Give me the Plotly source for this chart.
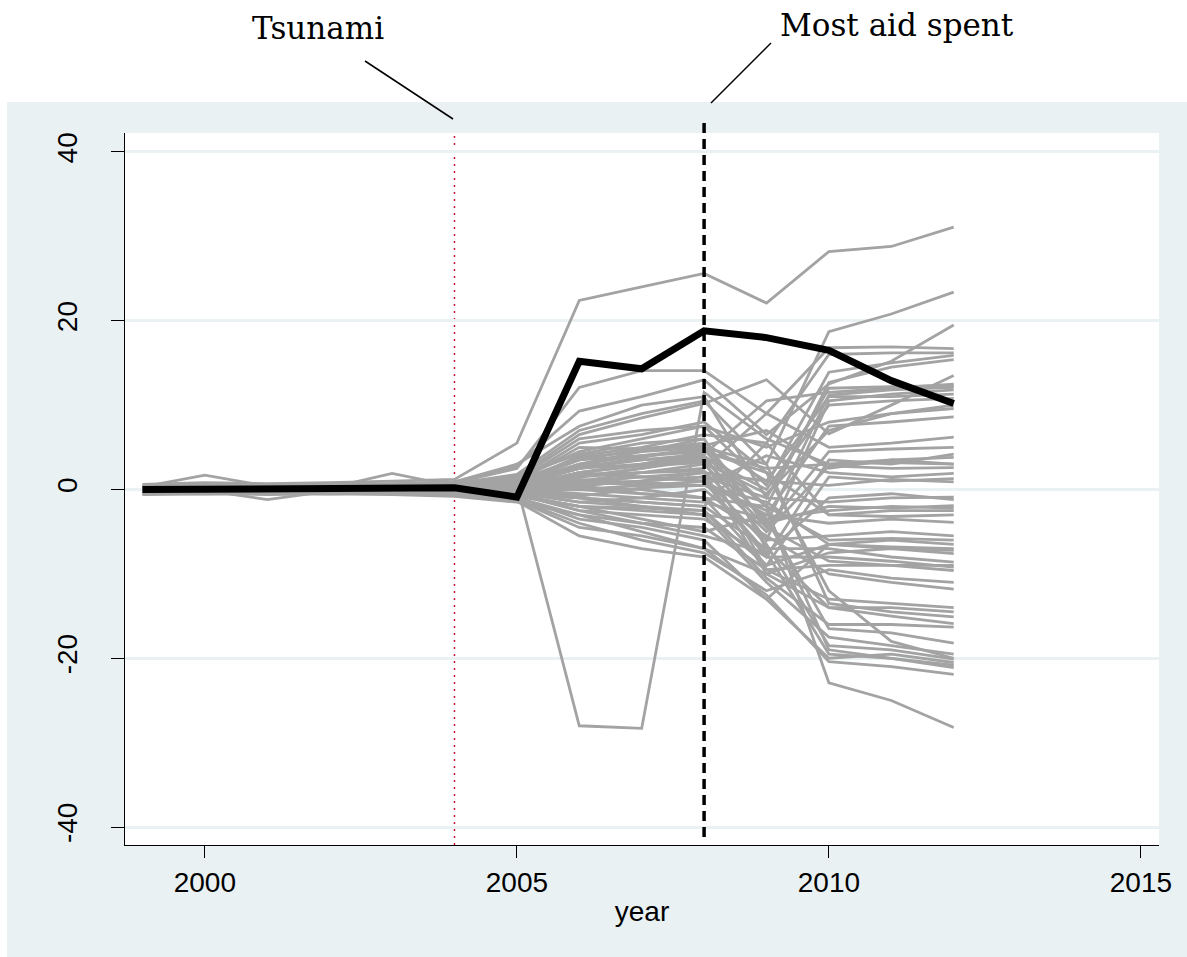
import plotly.graph_objects as go

# Gap between each region and its synthetic control, 1999-2012
years = [1999, 2000, 2001, 2002, 2003, 2004, 2005, 2006, 2007, 2008, 2009, 2010, 2011, 2012]

treated = [0.0, 0.0, 0.0, 0.0, 0.0, 0.2, -0.9, 15.2, 14.3, 18.8, 18.0, 16.5, 12.9, 10.2]

# Placebo runs (one per donor region)
gap_01 = [0.6, 0.8, 0.7, 0.8, 1.0, 1.2, 5.5, 22.4, 24.0, 25.6, 22.1, 28.2, 28.8, 31.1]
gap_02 = [0.2, 0.3, 0.2, 0.4, 0.3, 0.7, 1.8, 7.0, 9.0, 10.5, 3.0, 18.7, 20.8, 23.4]
gap_03 = [0.4, 0.5, 0.3, 0.5, 0.6, 0.9, 2.8, 9.3, 11.0, 13.0, 6.5, 12.5, 15.2, 19.5]
gap_04 = [0.3, 0.4, 0.3, 0.4, 0.5, 0.8, 2.5, 12.1, 14.1, 14.1, 9.0, 16.8, 16.9, 16.7]
gap_05 = [0.1, 0.2, 0.1, 0.2, 0.3, 0.4, 1.2, 4.5, 6.0, 7.5, 0.5, 13.9, 15.0, 15.9]
gap_06 = [-0.1, 0.1, 0.0, 0.2, 0.1, 0.3, 1.0, 3.8, 4.5, 5.0, -2.0, 12.7, 14.5, 15.4]
gap_07 = [0.2, 0.1, 0.3, 0.2, 0.4, 0.6, 1.5, 6.5, 8.5, 10.2, 13.0, 6.6, 10.0, 13.5]
gap_08 = [0.0, 0.1, 0.2, 0.1, 0.2, 0.3, 0.8, 3.0, 4.0, 4.8, -4.0, 11.2, 11.8, 12.1]
gap_09 = [0.1, 0.0, 0.1, 0.0, 0.2, 0.2, 0.6, 2.5, 3.5, 4.0, -6.0, 10.5, 11.3, 11.8]
gap_10 = [-0.2, 0.0, -0.1, 0.1, 0.0, 0.2, 0.9, 5.0, 4.8, 5.5, 1.0, 11.0, 11.0, 11.3]
gap_11 = [0.3, 1.7, 0.4, 0.3, 0.5, 0.5, 1.3, 6.0, 7.0, 7.5, 5.0, 8.0, 9.0, 9.6]
gap_12 = [0.1, 0.2, 0.0, 0.2, 0.1, 0.3, 0.4, 2.0, 1.5, 1.0, -3.0, 7.5, 8.0, 8.6]
gap_13 = [0.0, -0.1, 0.1, 0.0, 0.1, 0.1, 0.3, 1.5, 2.0, 2.5, 9.0, 5.0, 5.5, 6.2]
gap_14 = [-0.3, -0.2, -0.3, -0.2, -0.1, 0.0, 0.2, 1.0, 1.5, 1.0, -8.0, 3.5, 3.0, 4.2]
gap_15 = [0.2, 0.3, 0.1, 0.2, 1.9, 0.4, 1.0, 3.5, 4.8, 5.2, 7.0, 2.5, 3.5, 3.8]
gap_16 = [0.0, 0.0, 0.1, 0.1, 0.0, 0.2, 0.5, 1.8, 2.0, 2.2, -5.0, 2.8, 2.5, 2.6]
gap_17 = [-0.1, 0.0, -0.1, 0.0, 0.1, 0.1, 0.2, 1.2, 0.8, 0.5, 4.0, 2.0, 1.5, 1.9]
gap_18 = [0.1, 0.0, 0.0, -0.1, 0.0, 0.0, -0.2, 0.5, -0.5, -1.0, -9.0, 1.5, 1.0, 1.3]
gap_19 = [0.0, 0.1, 0.0, 0.1, 0.0, 0.1, 0.1, 0.8, 1.5, 2.0, 1.0, 0.5, 1.2, 0.9]
gap_20 = [0.2, 0.1, 0.3, 0.2, 0.1, 0.4, 0.5, -28.0, -28.3, 11.5, 6.0, 3.0, 3.5, 3.0]
gap_21 = [0.0, 0.0, -0.1, 0.0, -0.1, 0.0, -0.3, 0.5, 1.0, 1.5, -1.0, -1.5, -1.0, -0.9]
gap_22 = [-0.2, -0.1, -1.2, -0.2, -0.3, -0.2, -0.5, -1.0, -2.0, -3.0, -4.0, -2.0, -2.2, -1.9]
gap_23 = [0.1, 0.0, 0.1, 0.0, 0.1, 0.0, 0.0, 2.0, 3.0, 4.5, 2.0, -3.0, -2.5, -2.5]
gap_24 = [-0.3, -0.2, -0.4, -0.3, -0.2, -0.4, -0.8, -2.0, -3.5, -5.0, -3.0, -4.0, -3.5, -3.9]
gap_25 = [0.0, 0.1, 0.0, 0.0, -0.1, -0.1, -0.4, -1.5, -1.0, 0.0, -6.0, -5.5, -5.0, -5.5]
gap_26 = [-0.1, -0.1, 0.0, -0.1, -0.1, -0.2, -0.2, 0.0, -0.5, -1.0, -2.0, -6.0, -5.8, -6.0]
gap_27 = [-0.5, -0.4, -0.5, -0.4, -0.3, -0.5, -1.0, -3.0, -5.0, -7.0, -10.0, -7.5, -7.0, -7.6]
gap_28 = [0.2, 0.2, 0.1, 0.2, 0.3, 0.2, 0.4, 3.0, 4.5, 6.0, -7.0, -7.0, -8.0, -8.6]
gap_29 = [-0.2, -0.3, -0.2, -0.1, -0.2, -0.3, -0.6, -2.5, -3.0, -3.5, -8.0, -8.0, -8.5, -9.2]
gap_30 = [0.1, 0.0, 0.1, 0.0, 0.0, 0.0, 0.1, 1.0, 2.0, 3.0, -4.5, -8.5, -9.0, -9.6]
gap_31 = [-0.4, -0.3, -0.4, -0.3, -0.4, -0.6, -1.2, -4.0, -6.0, -7.5, -12.0, -9.5, -10.5, -11.0]
gap_32 = [0.0, 0.0, 0.0, 0.1, 0.0, 0.0, -0.1, 0.2, 0.0, -1.0, -5.5, -10.0, -11.0, -11.8]
gap_33 = [-0.6, -0.5, -0.6, -0.5, -0.6, -0.8, -1.5, -3.0, -4.0, -4.5, -9.5, -13.0, -13.5, -14.0]
gap_34 = [0.3, 0.2, 0.3, 0.2, 0.2, 0.3, 0.5, 2.5, 3.8, 5.0, 3.0, -13.5, -14.5, -15.1]
gap_35 = [-0.1, 0.0, -0.1, -0.2, -0.1, -0.1, -0.3, -1.0, -1.5, -2.0, -7.0, -14.0, -15.0, -15.9]
gap_36 = [0.2, 0.1, 0.2, 0.3, 0.2, 0.1, 0.3, 1.5, 2.5, 3.5, -3.5, -16.5, -17.0, -18.2]
gap_37 = [-0.2, -0.2, -0.1, -0.2, -0.2, -0.3, -0.7, -2.0, -2.5, -3.0, -11.0, -17.5, -18.5, -19.5]
gap_38 = [0.0, 0.1, 0.0, 0.0, 0.1, 0.0, 0.0, 0.5, 1.0, 1.5, -6.5, -18.5, -19.0, -20.1]
gap_39 = [-0.3, -0.4, -0.3, -0.2, -0.3, -0.4, -0.9, -3.5, -4.5, -6.0, -13.0, -20.0, -19.5, -20.5]
gap_40 = [0.1, 0.0, 0.1, 0.1, 0.0, 0.1, 0.2, 1.0, 0.5, 0.5, -2.5, -19.0, -20.0, -21.1]
gap_41 = [-0.5, -0.5, -0.4, -0.5, -0.4, -0.6, -1.3, -4.5, -5.5, -7.0, -12.5, -20.4, -21.0, -21.9]
gap_42 = [0.0, 0.0, 0.0, 0.0, 0.0, 0.1, 0.2, 2.0, 3.0, 4.0, -2.0, -22.9, -25.0, -28.2]
gap_43 = [0.1, 0.1, 0.2, 0.1, 0.1, 0.2, 0.6, 4.0, 5.0, 6.5, 5.5, 16.0, 16.2, 16.2]
gap_44 = [0.0, 0.1, 0.0, 0.1, 0.0, 0.1, 0.4, 2.8, 3.5, 4.2, 10.5, 11.5, 12.0, 12.5]
gap_45 = [-0.1, 0.0, -0.1, 0.0, -0.1, 0.0, 0.1, 1.5, 2.5, 3.8, 0.0, 10.0, 10.5, 10.8]
gap_46 = [0.0, 0.0, 0.0, 0.0, 0.0, 0.0, 0.0, -0.5, -1.0, -1.5, -3.5, -2.5, -2.0, -2.2]
gap_47 = [-0.2, -0.1, -0.2, -0.1, -0.2, -0.2, -0.4, -1.5, -2.0, -2.5, -9.0, -6.5, -6.0, -6.5]
gap_48 = [0.1, 0.0, 0.1, 0.0, 0.1, 0.0, 0.0, 0.5, 1.0, 2.0, -10.0, -14.0, -14.0, -14.5]
gap_49 = [-0.2, -0.2, -0.3, -0.2, -0.1, -0.2, -0.5, -2.5, -4.0, -5.5, -7.5, -19.5, -20.0, -20.8]
gap_50 = [0.2, 0.2, 0.3, 0.2, 0.2, 0.3, 0.7, 3.5, 4.0, 4.5, 2.5, 3.0, 3.2, 3.0]
gap_51 = [0.5, 0.6, 0.5, 0.6, 0.7, 0.9, 3.0, 7.5, 10.0, 11.0, -1.0, 12.0, 12.2, 12.3]
gap_52 = [-0.4, -0.3, -0.5, -0.4, -0.5, -0.6, -1.4, -5.5, -7.0, -8.0, -13.0, -6.5, -7.0, -7.2]
gap_53 = [0.3, 0.4, 0.3, 0.3, 0.4, 0.5, 1.6, 4.2, 5.5, 6.0, -4.5, 4.5, 4.8, 5.0]
gap_54 = [0.0, -0.1, 0.0, -0.1, 0.0, 0.1, 0.3, 0.0, 0.5, 1.0, -7.5, -1.0, -0.5, -1.2]
gap_55 = [-0.3, -0.2, -0.3, -0.3, -0.2, -0.3, -0.6, -1.0, -1.5, -2.0, 5.5, -3.0, -3.2, -3.0]
gap_56 = [0.1, 0.2, 0.1, 0.1, 0.2, 0.2, 0.5, 2.5, 3.0, 3.5, -9.5, -9.0, -9.0, -9.0]
gap_57 = [-0.1, -0.2, -0.1, -0.1, -0.2, -0.2, -0.6, -2.0, -2.2, -2.5, -10.5, -16.0, -16.0, -16.3]
gap_58 = [0.2, 0.3, 0.2, 0.3, 0.2, 0.4, 1.0, 5.5, 6.5, 8.0, 2.0, -12.0, -18.0, -20.0]
gap_59 = [0.0, 0.0, 0.0, 0.0, 0.0, 0.0, -0.2, -0.8, 0.2, 0.5, -1.5, -6.5, -6.8, -7.0]
gap_60 = [0.1, 0.0, 0.1, 0.0, 0.1, 0.1, 0.4, 2.0, 2.8, 3.2, -0.5, 7.0, 9.0, 10.0]

placebos = [
    gap_01, gap_02, gap_03, gap_04, gap_05, gap_06, gap_07, gap_08, gap_09, gap_10,
    gap_11, gap_12, gap_13, gap_14, gap_15, gap_16, gap_17, gap_18, gap_19, gap_20,
    gap_21, gap_22, gap_23, gap_24, gap_25, gap_26, gap_27, gap_28, gap_29, gap_30,
    gap_31, gap_32, gap_33, gap_34, gap_35, gap_36, gap_37, gap_38, gap_39, gap_40,
    gap_41, gap_42, gap_43, gap_44, gap_45, gap_46, gap_47, gap_48, gap_49, gap_50,
    gap_51, gap_52, gap_53, gap_54, gap_55, gap_56, gap_57, gap_58, gap_59, gap_60,
]

x_ticks = [2000, 2005, 2010, 2015]
y_ticks = [-40, -20, 0, 20, 40]
tsunami_year = 2004
aid_year = 2008

W, H = 1187, 957
ML, MR, MT, MB = 125, 28, 133, 112
PW, PH = W - ML - MR, H - MT - MB


def px(xp):
    return (xp - ML) / PW


def py(yp):
    return (H - MB - yp) / PH


BG = "#e9f1f3"
GREY = "#a3a3a3"
RED = "#c8143c"

fig = go.Figure()

for g in placebos:
    fig.add_trace(go.Scatter(x=years, y=g, mode="lines",
                             line=dict(color=GREY, width=2.8),
                             hoverinfo="skip", showlegend=False))

fig.add_trace(go.Scatter(x=years, y=treated, mode="lines",
                         line=dict(color="black", width=7),
                         showlegend=False))

shapes = [
    # outer tinted panel, then white plotting region on top of it
    dict(type="rect", xref="paper", yref="paper", x0=px(7), x1=px(W + 5),
         y0=py(H + 5), y1=py(102), fillcolor=BG, line=dict(width=0), layer="below"),
    dict(type="rect", xref="paper", yref="paper", x0=0, x1=1, y0=0, y1=1,
         fillcolor="white", line=dict(width=0), layer="below"),
    # zero reference line
    dict(type="line", xref="paper", yref="y", x0=0, x1=1, y0=0, y1=0,
         line=dict(color=RED, width=2.5, dash="22px,12px"), layer="between"),
    # tsunami marker
    dict(type="line", xref="x", yref="paper", x0=tsunami_year, x1=tsunami_year,
         y0=0, y1=1, line=dict(color=RED, width=1.5, dash="2px,5px"), layer="between"),
    # peak aid spending marker
    dict(type="line", xref="x", yref="paper", x0=aid_year, x1=aid_year,
         y0=py(837), y1=py(120), line=dict(color="black", width=3.5, dash="10px,6px"),
         layer="above"),
    # callout leaders
    dict(type="line", xref="paper", yref="paper", x0=px(365), y0=py(61),
         x1=px(453), y1=py(119), line=dict(color="black", width=1.5), layer="above"),
    dict(type="line", xref="paper", yref="paper", x0=px(771), y0=py(43),
         x1=px(711), y1=py(103), line=dict(color="black", width=1.5), layer="above"),
]

annotations = [
    dict(text="Tsunami", xref="paper", yref="paper", x=px(318), y=py(28),
         xanchor="center", yanchor="middle", showarrow=False,
         font=dict(family="DejaVu Serif", size=31, color="black")),
    dict(text="Most aid spent", xref="paper", yref="paper", x=px(897), y=py(25),
         xanchor="center", yanchor="middle", showarrow=False,
         font=dict(family="DejaVu Serif", size=31, color="black")),
]

fig.update_layout(
    width=W, height=H, autosize=False,
    margin=dict(l=ML, r=MR, t=MT, b=MB, pad=0),
    paper_bgcolor="white", plot_bgcolor="white",
    shapes=shapes, annotations=annotations,
    font=dict(family="Liberation Sans", color="black"),
    showlegend=False,
)

fig.update_xaxes(
    range=[1998.72, 2015.29], tickvals=x_ticks, ticktext=[str(v) for v in x_ticks],
    showgrid=False, zeroline=False,
    showline=True, linecolor="black", linewidth=1.3,
    ticks="outside", ticklen=12, tickwidth=1.3, tickcolor="black",
    tickfont=dict(size=28, family="Liberation Sans"),
    title=dict(text="year", font=dict(size=28, family="Liberation Sans"), standoff=4),
)

fig.update_yaxes(
    range=[-42.13, 42.25], tickvals=y_ticks, ticktext=[str(v) for v in y_ticks],
    showgrid=True, gridcolor=BG, gridwidth=2.7, zeroline=False,
    showline=True, linecolor="black", linewidth=1.3,
    ticks="outside", ticklen=13, tickwidth=1.3, tickcolor="black",
    tickangle=-90, ticklabelstandoff=23,
    tickfont=dict(size=28, family="Liberation Sans"),
)

fig.write_html("out.html")
